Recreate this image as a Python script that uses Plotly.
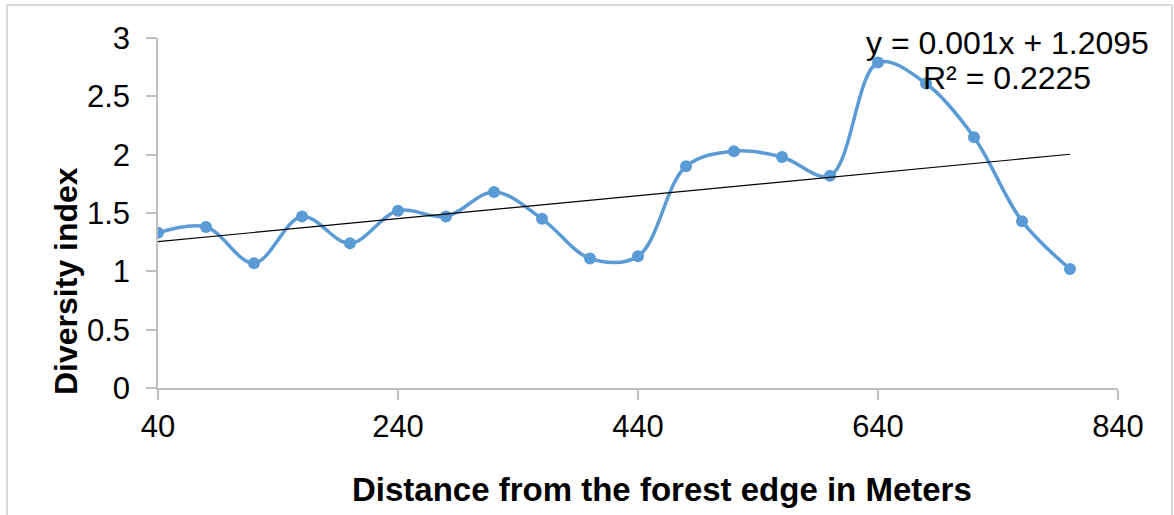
import numpy as np
import plotly.graph_objects as go

# ---- data ----
distance_m = [40, 80, 120, 160, 200, 240, 280, 320, 360, 400,
              440, 480, 520, 560, 600, 640, 680, 720, 760, 800]
diversity_index = [1.33, 1.38, 1.07, 1.47, 1.24, 1.52, 1.47, 1.68, 1.45, 1.11,
                   1.13, 1.90, 2.03, 1.98, 1.82, 2.79, 2.61, 2.15, 1.43, 1.02]
x_ticks = [40, 240, 440, 640, 840]
y_ticks = [0, 0.5, 1, 1.5, 2, 2.5, 3]
y_tick_labels = ["0", "0.5", "1", "1.5", "2", "2.5", "3"]
trend_eq_text = "y = 0.001x + 1.2095"
trend_r2_text = "R² = 0.2225"
x_title = "Distance from the forest edge in Meters"
y_title = "Diversity index"

# linear trendline (least squares, like the spreadsheet trendline)
slope, intercept = np.polyfit(distance_m, diversity_index, 1)
trend_x = [min(distance_m), max(distance_m)]
trend_y = [slope * v + intercept for v in trend_x]

BLUE = "#5b9bd5"
AXIS = "#bfbfbf"
FONT = "Liberation Sans, Arial, sans-serif"

fig = go.Figure()
fig.add_trace(go.Scatter(
    x=distance_m, y=diversity_index, mode="lines+markers",
    line=dict(color=BLUE, width=3.5, shape="spline", smoothing=1),
    marker=dict(color=BLUE, size=12),
    showlegend=False, hoverinfo="x+y",
))
fig.add_trace(go.Scatter(
    x=trend_x, y=trend_y, mode="lines",
    line=dict(color="black", width=1.2),
    showlegend=False, hoverinfo="skip",
))

fig.update_layout(
    width=1174, height=515,
    margin=dict(l=158, r=56, t=38, b=127, pad=0),
    paper_bgcolor="white", plot_bgcolor="white",
    font=dict(family=FONT, color="black", size=31),
    xaxis=dict(
        range=[40, 840], tickmode="array", tickvals=x_ticks,
        showgrid=False, zeroline=False,
        showline=True, linecolor=AXIS, linewidth=1.5,
        ticks="outside", ticklen=10, tickcolor=AXIS, tickwidth=1.5,
        tickfont=dict(size=31, family=FONT, color="black"),
        ticklabelstandoff=0,
    ),
    yaxis=dict(
        range=[0, 3], tickmode="array", tickvals=y_ticks, ticktext=y_tick_labels,
        showgrid=False, zeroline=False,
        showline=True, linecolor=AXIS, linewidth=1.5,
        ticks="outside", ticklen=10, tickcolor=AXIS, tickwidth=1.5,
        tickfont=dict(size=31, family=FONT, color="black"),
        ticklabelstandoff=10,
    ),
    shapes=[dict(
        type="rect", xref="paper", yref="paper",
        x0=(7 - 158) / 960, x1=(1172 - 158) / 960,
        y0=(388 - 530) / 350, y1=(388 - 5) / 350,
        line=dict(color="#d9d9d9", width=2), fillcolor="rgba(0,0,0,0)",
        layer="below",
    )],
    annotations=[
        dict(text=x_title, xref="paper", yref="paper",
             x=(662 - 158) / 960, y=(388 - 489) / 350,
             xanchor="center", yanchor="middle", showarrow=False,
             font=dict(family=FONT, size=33, color="black", weight="bold")),
        dict(text=y_title, xref="paper", yref="paper",
             x=(66 - 158) / 960, y=(388 - 281) / 350, textangle=-90,
             xanchor="center", yanchor="middle", showarrow=False,
             font=dict(family=FONT, size=32, color="black", weight="bold")),
        dict(text=trend_eq_text, xref="paper", yref="paper",
             x=(1007 - 158) / 960, y=(388 - 42.5) / 350,
             xanchor="center", yanchor="middle", showarrow=False,
             font=dict(family=FONT, size=32, color="black")),
        dict(text=trend_r2_text, xref="paper", yref="paper",
             x=(1007 - 158) / 960, y=(388 - 77.5) / 350,
             xanchor="center", yanchor="middle", showarrow=False,
             font=dict(family=FONT, size=32, color="black")),
    ],
)

fig.write_html("out.html")
